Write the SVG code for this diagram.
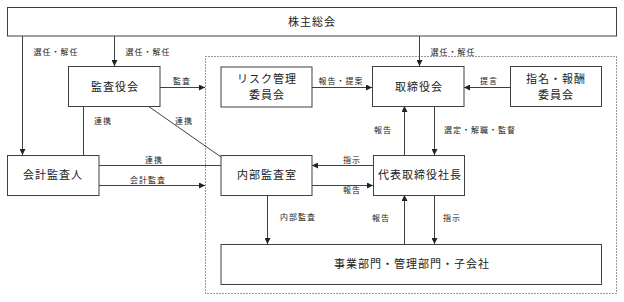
<svg xmlns="http://www.w3.org/2000/svg" width="624" height="302" viewBox="0 0 624 302">
<style>
.box{fill:#fff;stroke:#404040;stroke-width:1}
.ln{fill:none;stroke:#404040;stroke-width:1}
.t{font-family:"Noto Sans CJK JP","Noto Sans CJK SC",sans-serif;font-size:11px;fill:#222;text-anchor:middle;letter-spacing:1px}
.s{font-family:"Noto Sans CJK JP","Noto Sans CJK SC",sans-serif;font-size:8px;fill:#222;text-anchor:middle;letter-spacing:1px}
</style>
<defs>
<marker id="a" viewBox="0 0 6 6" refX="6" refY="3" markerWidth="6" markerHeight="6" markerUnits="userSpaceOnUse" orient="auto">
<path d="M0,0 L6,3 L0,6 Z" fill="#222"/>
</marker>
</defs>
<rect x="205.5" y="56.5" width="411" height="237" fill="none" stroke="#333" stroke-width="1" stroke-dasharray="1,2"/>
<g id="connectors">
<path class="ln" d="M22.5,36 V155" marker-end="url(#a)"/>
<path class="ln" d="M114.5,36 V66" marker-end="url(#a)"/>
<path class="ln" d="M419.5,36 V66" marker-end="url(#a)"/>
<path class="ln" d="M160,87.5 H205" marker-end="url(#a)"/>
<path class="ln" d="M312,87.5 H372" marker-end="url(#a)"/>
<path class="ln" d="M510,87.5 H464" marker-end="url(#a)"/>
<path class="ln" d="M404.5,155 V106" marker-end="url(#a)"/>
<path class="ln" d="M434.5,106 V155" marker-end="url(#a)"/>
<path class="ln" d="M373,165.5 H312" marker-end="url(#a)"/>
<path class="ln" d="M312,185.5 H373" marker-end="url(#a)"/>
<path class="ln" d="M99,165.5 H221"/>
<path class="ln" d="M99,185.5 H205" marker-end="url(#a)"/>
<path class="ln" d="M83.5,106 V155"/>
<path class="ln" d="M148,106 L221,157"/>
<path class="ln" d="M267.5,195 V244" marker-end="url(#a)"/>
<path class="ln" d="M404.5,244 V195" marker-end="url(#a)"/>
<path class="ln" d="M434.5,195 V244" marker-end="url(#a)"/>
<text class="s" x="56" y="55">選任・解任</text>
<text class="s" x="148" y="55">選任・解任</text>
<text class="s" x="453" y="55">選任・解任</text>
<text class="s" x="182" y="84">監査</text>
<text class="s" x="341" y="84">報告・提案</text>
<text class="s" x="489" y="84">提言</text>
<text class="s" x="383" y="133">報告</text>
<text class="s" x="480" y="133">選定・解職・監督</text>
<text class="s" x="103" y="124">連携</text>
<text class="s" x="184" y="124">連携</text>
<text class="s" x="154" y="163">連携</text>
<text class="s" x="148" y="183">会計監査</text>
<text class="s" x="352" y="163">指示</text>
<text class="s" x="352" y="193">報告</text>
<text class="s" x="298" y="220">内部監査</text>
<text class="s" x="381" y="221">報告</text>
<text class="s" x="452" y="221">指示</text>
</g>
<g id="shareholders"><rect class="box" x="7.5" y="7.5" width="609" height="28.5"/><text class="t" x="312" y="26">株主総会</text></g>
<g id="kansayakukai"><rect class="box" x="68.5" y="66.5" width="91.5" height="40"/><text class="t" x="115" y="91">監査役会</text></g>
<g id="risk"><rect class="box" x="221" y="67" width="91" height="40"/><text class="t" x="267" y="83">リスク管理</text><text class="t" x="267" y="99">委員会</text></g>
<g id="torishimariyakukai"><rect class="box" x="372.5" y="66.5" width="91.5" height="40"/><text class="t" x="419" y="91">取締役会</text></g>
<g id="shimei"><rect class="box" x="510.5" y="66.5" width="91" height="40"/><text class="t" x="556" y="83">指名・報酬</text><text class="t" x="556" y="99">委員会</text></g>
<g id="kaikeikansanin"><rect class="box" x="7.5" y="155.5" width="91.5" height="40"/><text class="t" x="53" y="179">会計監査人</text></g>
<g id="naibukansashitsu"><rect class="box" x="221" y="155.5" width="91" height="40"/><text class="t" x="267" y="179">内部監査室</text></g>
<g id="ceo"><rect class="box" x="373.5" y="155.5" width="91" height="40"/><text class="t" x="420" y="179">代表取締役社長</text></g>
<g id="business"><rect class="box" x="221" y="244.5" width="380.5" height="40"/><text class="t" x="412" y="268">事業部門・管理部門・子会社</text></g>
</svg>
